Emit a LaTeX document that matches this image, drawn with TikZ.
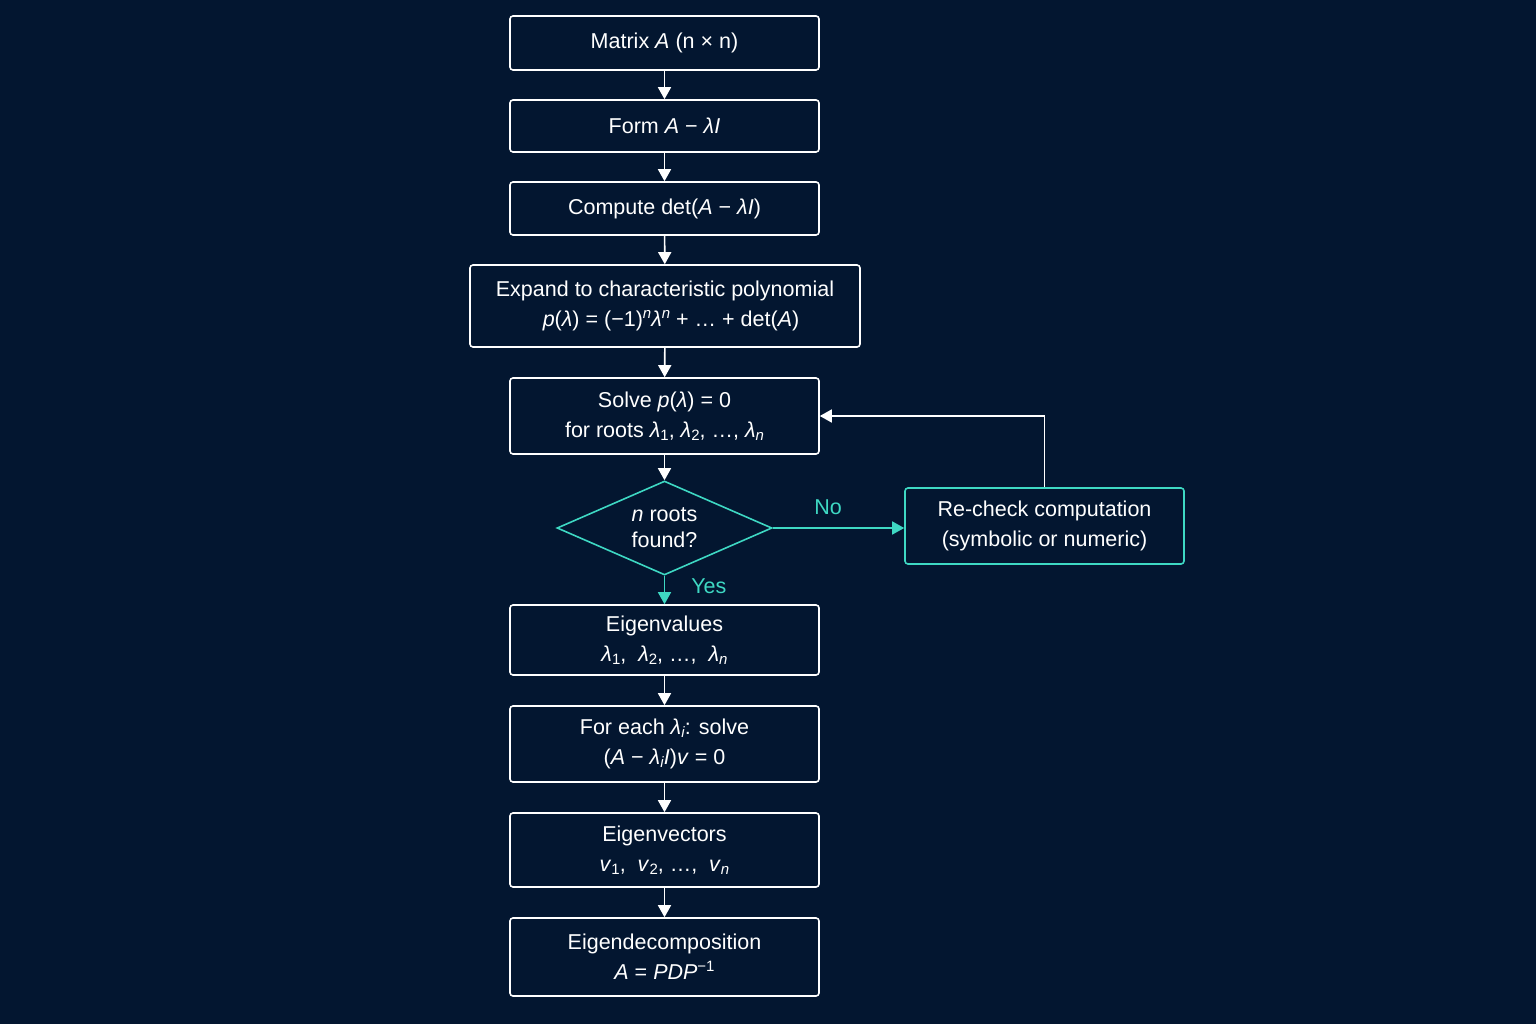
\documentclass[tikz,border=0pt]{standalone}
\usepackage{fontspec}
\setmainfont{Liberation Sans}
\usetikzlibrary{shapes.geometric,arrows.meta}
\definecolor{bgc}{HTML}{031630}
\definecolor{tealc}{HTML}{3ED8C3}
\newcommand\mylam{\textit{λ}}
\newcommand\mysub[1]{\raisebox{-0.3ex}{\fontsize{15}{15}\selectfont #1}}
\newcommand\mysup[1]{\raisebox{0.75ex}{\fontsize{15}{15}\selectfont #1}}
\begin{document}
\begin{tikzpicture}[x=1pt,y=-1pt,
  every node/.style={font=\fontsize{21.5}{30}\selectfont, text=white},
  box/.style={draw=white, line width=1.6pt, rounded corners=3pt, align=center, minimum width=309pt, inner sep=0pt},
  tbox/.style={box, draw=tealc},
  dec/.style={draw=tealc, line width=1.6pt, shape=diamond, shape aspect=2.3, inner sep=0pt, minimum width=215pt, minimum height=94pt, align=center, font=\fontsize{21.5}{26}\selectfont},
  arr/.style={draw=white, line width=1.6pt, -{Triangle[width=13pt,length=12pt]}},
  tarr/.style={arr, draw=tealc, -{Triangle[width=13pt,length=12pt, fill=tealc]}},
  lbl/.style={text=tealc, inner sep=0pt}
]
\fill[bgc] (0,0) rectangle (1536,1024);
\node[box, minimum height=54pt] (b1) at (664.5,43) {Matrix \textit{A} (n × n)};
\node[box, minimum height=52pt] (b2) at (664.5,126) {Form \textit{A} − \mylam\textit{I}};
\node[box, minimum height=53pt] (b3) at (664.5,208.5) {Compute det(\textit{A} − \mylam\textit{I})};
\node[box, minimum width=390pt, minimum height=82pt] (b4) at (665,306) {Expand to characteristic polynomial\\ \hspace*{12pt}\textit{p}(\mylam) = (−1)\mysup{\textit{n}}\mylam\mysup{\textit{n}} + … + det(\textit{A})};
\node[box, minimum height=76pt] (b5) at (664.5,416) {Solve \textit{p}(\mylam) = 0\\ for roots \mylam\mysub{1}, \mylam\mysub{2}, …, \mylam\mysub{\textit{n}}};
\node[dec] (d) at (664.5,528) {\textit{n} roots\\ found?};
\node[tbox, minimum width=279pt, minimum height=76pt] (rc) at (1044.5,526) {Re-check computation\\ (symbolic or numeric)};
\node[box, minimum height=70pt] (b6) at (664.5,640) {Eigenvalues\\ \mylam\mysub{1}, \ \mylam\mysub{2}, …, \ \mylam\mysub{\textit{n}}};
\node[box, minimum height=76pt] (b7) at (664.5,744) {For each \mylam\mysub{\textit{i}}: solve\\ (\textit{A} − \mylam\mysub{\textit{i}}\textit{I})\textit{v} = 0};
\node[box, minimum height=74pt] (b8) at (664.5,850) {Eigenvectors\\ \textit{v}\mysub{1}, \ \textit{v}\mysub{2}, …, \ \textit{v}\mysub{\textit{n}}};
\node[box, minimum height=78pt] (b9) at (664.5,957) {Eigendecomposition\\ \textit{A} = \textit{PDP}\mysup{−1}};
\draw[arr] (b1) -- (b2);
\draw[arr] (b2) -- (b3);
\draw[arr] (b3) -- (b4);
\draw[arr] (b4) -- (b5);
\draw[arr] (b5) -- (d);
\draw[tarr] (d) -- (b6) node[lbl, pos=0.35, right=26pt] {Yes};
\draw[tarr] (d.east) -- (d.east -| rc.west) node[lbl, pos=0.42, above=12pt] {No};
\draw[arr] (rc.north) |- (b5.east);
\draw[arr] (b6) -- (b7);
\draw[arr] (b7) -- (b8);
\draw[arr] (b8) -- (b9);
\end{tikzpicture}
\end{document}
